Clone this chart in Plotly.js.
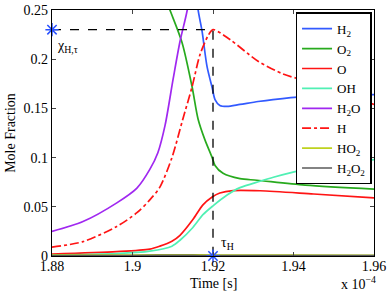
<!DOCTYPE html>
<html>
<head>
<meta charset="utf-8">
<script src="https://cdn.plot.ly/plotly-3.0.1.min.js"></script>
<style>html,body{margin:0;padding:0;background:#fff;}#chart{width:390px;height:294px;}</style>
</head>
<body>
<div id="chart"></div>
<script>
// time in units of 1e-4 s
const tH2 = [1.880, 1.900, 1.910, 1.9140, 1.9155, 1.9163, 1.9173, 1.9185, 1.9198, 1.9205, 1.9217, 1.9235, 1.9267, 1.9312, 1.9349, 1.9424, 1.9600];
const yH2 = [0.420, 0.390, 0.340, 0.300, 0.280, 0.250, 0.228, 0.193, 0.171, 0.159, 0.153, 0.152, 0.154, 0.157, 0.159, 0.162, 0.164];

const tO2 = [1.880, 1.900, 1.9060, 1.9093, 1.9123, 1.9148, 1.9163, 1.9180, 1.9198, 1.9205, 1.9225, 1.9267, 1.9309, 1.9429, 1.9600];
const yO2 = [0.340, 0.310, 0.285, 0.250, 0.217, 0.172, 0.139, 0.118, 0.100, 0.092, 0.084, 0.0786, 0.0770, 0.0720, 0.0680];

const tO = [1.880, 1.8961, 1.9043, 1.9068, 1.9098, 1.9118, 1.9150, 1.9175, 1.9198, 1.9217, 1.9250, 1.9317, 1.9450, 1.9600];
const yO = [0.002, 0.0044, 0.0070, 0.0100, 0.0150, 0.0210, 0.0370, 0.0520, 0.0600, 0.0640, 0.0665, 0.0663, 0.0630, 0.0590];

const tOH = [1.880, 1.8961, 1.9043, 1.9098, 1.9118, 1.9150, 1.9175, 1.9200, 1.9235, 1.9267, 1.9317, 1.9350, 1.9429, 1.9600];
const yOH = [0.001, 0.0025, 0.0050, 0.0100, 0.0160, 0.0290, 0.0420, 0.0510, 0.0620, 0.0695, 0.0760, 0.0800, 0.0880, 0.0980];

const tH2O = [1.880, 1.8877, 1.8961, 1.9011, 1.9043, 1.9063, 1.9081, 1.9101, 1.9118, 1.9136, 1.9150];
const yH2O = [0.025, 0.035, 0.054, 0.069, 0.088, 0.105, 0.133, 0.180, 0.218, 0.250, 0.290];

const tH = [1.880, 1.8877, 1.8961, 1.9011, 1.9043, 1.9068, 1.9098, 1.9125, 1.9148, 1.9168, 1.9188, 1.9200, 1.9242, 1.9312, 1.9374, 1.9429, 1.9600];
const yH = [0.009, 0.0146, 0.030, 0.044, 0.057, 0.070, 0.100, 0.139, 0.172, 0.205, 0.224, 0.230, 0.220, 0.198, 0.185, 0.178, 0.154];

const tHO2 = [1.880, 1.900, 1.915, 1.920, 1.940, 1.960];
const yHO2 = [0.0008, 0.0010, 0.0012, 0.0010, 0.0008, 0.0007];

const tH2O2 = [1.880, 1.900, 1.915, 1.920, 1.940, 1.960];
const yH2O2 = [0.0004, 0.0005, 0.0006, 0.0004, 0.0003, 0.0003];

const tauH = 1.92;
const chiH = 0.23;

const xTicks = [1.88, 1.90, 1.92, 1.94, 1.96];
const xTickText = ['1.88', '1.9', '1.92', '1.94', '1.96'];
const yTicks = [0, 0.05, 0.10, 0.15, 0.20, 0.25];
const yTickText = ['0', '0.05', '0.1', '0.15', '0.2', '0.25'];

const W = 1.7;
const S = 0.8;
const traces = [
  {x: tH2, y: yH2, name: 'H<sub>2</sub>', mode: 'lines', line: {color: 'rgb(50,90,255)', width: W, shape: 'spline', smoothing: S}},
  {x: tO2, y: yO2, name: 'O<sub>2</sub>', mode: 'lines', line: {color: 'rgb(40,170,30)', width: W, shape: 'spline', smoothing: S}},
  {x: tO, y: yO, name: 'O', mode: 'lines', line: {color: 'rgb(255,20,20)', width: W, shape: 'spline', smoothing: S}},
  {x: tOH, y: yOH, name: 'OH', mode: 'lines', line: {color: 'rgb(80,240,180)', width: W, shape: 'spline', smoothing: S}},
  {x: tH2O, y: yH2O, name: 'H<sub>2</sub>O', mode: 'lines', line: {color: 'rgb(160,40,240)', width: W, shape: 'spline', smoothing: S}},
  {x: tH, y: yH, name: 'H', mode: 'lines', line: {color: 'rgb(255,20,20)', width: W, dash: 'dashdot', shape: 'spline', smoothing: S}},
  {x: tHO2, y: yHO2, name: 'HO<sub>2</sub>', mode: 'lines', line: {color: 'rgb(190,210,30)', width: W, shape: 'spline', smoothing: S}},
  {x: tH2O2, y: yH2O2, name: 'H<sub>2</sub>O<sub>2</sub>', mode: 'lines', line: {color: 'rgb(90,90,90)', width: W, shape: 'spline', smoothing: S}},
  {x: [xTicks[0], tauH, tauH], y: [chiH, chiH, 0], mode: 'lines', showlegend: false,
   line: {color: 'black', width: 1.3, dash: 'dash'}},
  {x: [xTicks[0], tauH], y: [chiH, 0], mode: 'markers', showlegend: false, cliponaxis: false,
   marker: {symbol: 'asterisk-open', size: 11, color: 'rgb(40,80,255)', line: {color: 'rgb(40,80,255)', width: 1.5}}}
];

const FAM = 'Liberation Serif';
const font = {family: FAM, size: 14, color: 'black'};

const layout = {
  width: 390, height: 294,
  margin: {l: 52, r: 16, t: 10, b: 38},
  paper_bgcolor: 'white', plot_bgcolor: 'white',
  font: font,
  showlegend: true,
  legend: {x: 0.993, xanchor: 'right', y: 0.99, yanchor: 'top', bgcolor: 'white',
    bordercolor: 'black', borderwidth: 1.3, font: {family: FAM, size: 13, color: 'black'},
    tracegroupgap: 0, itemwidth: 30},
  xaxis: {range: [1.88, 1.96], tickvals: xTicks, ticktext: xTickText, ticks: 'inside', ticklen: 4,
    showline: true, linecolor: 'black', linewidth: 1.3, mirror: 'allticks', showgrid: false, zeroline: false,
    tickfont: font, ticklabelstandoff: -3},
  yaxis: {range: [0, 0.25], tickvals: yTicks, ticktext: yTickText, ticks: 'inside', ticklen: 4,
    showline: true, linecolor: 'black', linewidth: 1.3, mirror: 'allticks', showgrid: false, zeroline: false,
    tickfont: font, title: {text: 'Mole Fraction', font: font, standoff: 4}},
  annotations: [
    {x: 0.5, y: -0.11, xref: 'paper', yref: 'paper', text: 'Time [s]', showarrow: false,
     xanchor: 'center', yanchor: 'middle', font: font},
    {x: xTicks[0] + 0.0008, y: chiH - 0.006, xref: 'x', yref: 'y', text: 'χ<sub>H,τ</sub>', showarrow: false,
     xanchor: 'left', yanchor: 'top', font: font},
    {x: tauH + 0.0015, y: 0.002, xref: 'x', yref: 'y', text: 'τ<sub>H</sub>', showarrow: false,
     xanchor: 'left', yanchor: 'bottom', font: font},
    {x: 1.012, y: -0.156, xref: 'paper', yref: 'paper', text: 'x 10<sup>−4</sup>', showarrow: false,
     xanchor: 'right', yanchor: 'bottom', font: font}
  ]
};

Plotly.newPlot('chart', traces, layout, {displayModeBar: false, staticPlot: true});
</script>
</body>
</html>
